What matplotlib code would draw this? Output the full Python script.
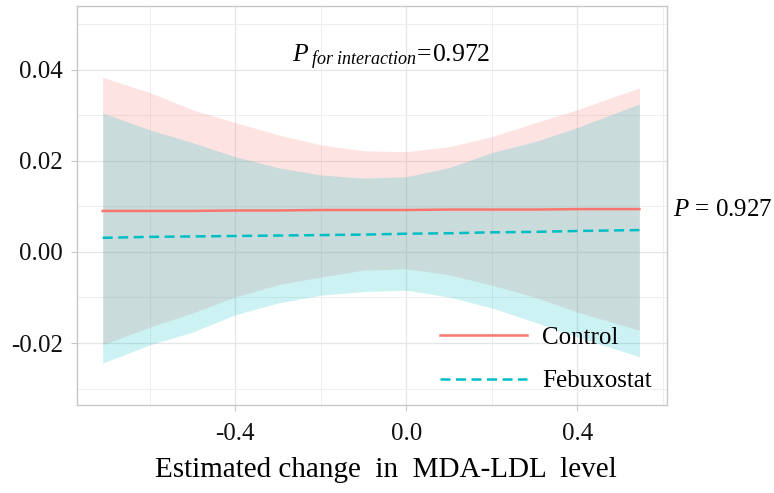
import matplotlib
matplotlib.use("Agg")
import matplotlib.pyplot as plt
from matplotlib.ticker import MultipleLocator

plt.rcParams['font.family'] = ['Liberation Serif']
plt.rcParams['mathtext.fontset'] = 'custom'
plt.rcParams['mathtext.rm'] = 'Liberation Serif'
plt.rcParams['mathtext.it'] = 'Liberation Serif:italic'

# values
x = [-0.71, -0.6, -0.5, -0.4, -0.3, -0.2, -0.1, 0.0, 0.1, 0.2, 0.3, 0.4, 0.545]
ctrl_fit = [0.0090, 0.0090, 0.0090, 0.0091, 0.0091, 0.0092, 0.0092, 0.0092, 0.0093, 0.0093, 0.0093, 0.0094, 0.0094]
ctrl_hi = [0.0383, 0.0350, 0.0312, 0.0284, 0.0257, 0.0235, 0.0222, 0.0220, 0.0231, 0.0253, 0.0283, 0.0312, 0.0360]
ctrl_lo = [-0.0204, -0.0165, -0.0134, -0.0099, -0.0072, -0.0055, -0.0040, -0.0037, -0.0050, -0.0073, -0.0099, -0.0132, -0.0172]
feb_fit = [0.0031, 0.0033, 0.0034, 0.0035, 0.0036, 0.0037, 0.0038, 0.0040, 0.0041, 0.0043, 0.0044, 0.0046, 0.0048]
feb_hi = [0.0305, 0.0268, 0.0240, 0.0209, 0.0185, 0.0169, 0.0162, 0.0165, 0.0185, 0.0218, 0.0242, 0.0273, 0.0325]
feb_lo = [-0.0244, -0.0204, -0.0176, -0.0138, -0.0112, -0.0095, -0.0087, -0.0084, -0.0099, -0.0123, -0.0154, -0.0187, -0.0230]

red = '#F8766D'
teal = '#00BFC4'

fig = plt.figure(figsize=(7.74, 4.93), dpi=100)
ax = fig.add_axes([0.0995, 0.1785, 0.7625, 0.8095])

ax.fill_between(x, ctrl_lo, ctrl_hi, color=red, alpha=0.2, lw=0)
ax.fill_between(x, feb_lo, feb_hi, color=teal, alpha=0.2, lw=0)
ax.plot(x, ctrl_fit, color=red, lw=1.8, label='Control')
ax.plot(x, feb_fit, color=teal, lw=1.8, dashes=(4, 2.2), label='Febuxostat')

ax.set_xlim(-0.77, 0.61)
ax.set_ylim(-0.0336, 0.054)
ax.xaxis.set_minor_locator(MultipleLocator(0.2))
ax.yaxis.set_minor_locator(MultipleLocator(0.01))
ax.set_xticks([-0.4, 0.0, 0.4])
ax.set_xticklabels(['-0.4', '0.0', '0.4'])
ax.set_yticks([-0.02, 0.0, 0.02, 0.04])
ax.set_yticklabels(['-0.02', '0.00', '0.02', '0.04'])

ax.grid(which='major', color='#e6e6e6', lw=0.9)
ax.grid(which='minor', color='#eeeeee', lw=0.7)
ax.set_axisbelow(True)
for s in ax.spines.values():
    s.set_color('#c8c8c8')
    s.set_linewidth(1.0)
ax.tick_params(which='major', length=4, color='#c8c8c8', labelsize=18, labelcolor='#111111', pad=6)
ax.tick_params(axis='x', pad=9)
ax.tick_params(which='minor', length=0)

ax.set_xlabel('Estimated change  in  MDA-LDL  level', fontsize=21)
ax.xaxis.set_label_coords(0.524, -0.13)

ax.text(0.532, 0.872, r'$P\,_{\mathit{for\ interaction}}\!=\!0.972$', transform=ax.transAxes,
        ha='center', va='center', fontsize=18.5)
fig.text(0.934, 0.574, r'$P$ = 0.927', ha='center', va='center', fontsize=18)

leg = ax.legend(loc='lower right', bbox_to_anchor=(0.995, 0.0), frameon=False, fontsize=18,
                handlelength=3.5, handletextpad=0.6, labelspacing=0.85,
                borderaxespad=0.2, borderpad=0.3)

fig.savefig('out.png', dpi=100)
